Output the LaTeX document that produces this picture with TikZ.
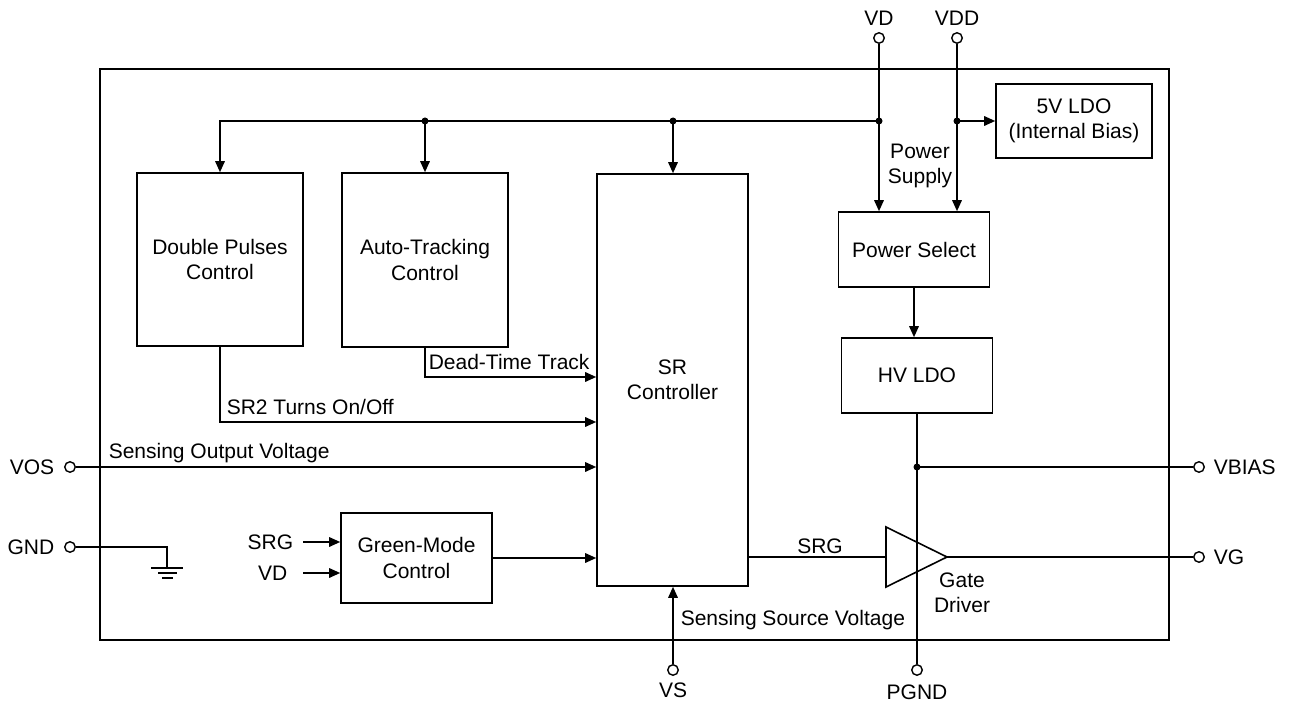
\documentclass[tikz,border=0pt]{standalone}
\usepackage{fontspec}
\setmainfont{Liberation Sans}
\usetikzlibrary{arrows.meta}
\newcommand{\dfont}{\fontsize{21}{25.5}\selectfont}
\begin{document}
\begin{tikzpicture}[x=1pt,y=-1pt, line width=1.6pt, line join=miter,
  blk/.style={draw, inner sep=0pt, align=center, font=\dfont},
  pin/.style={draw, circle, fill=white, minimum size=10.5pt, inner sep=0pt, line width=1.4pt},
  lbl/.style={inner sep=0pt, font=\dfont, align=center},
  arr/.style={-{Triangle[length=11pt,width=9.5pt]}},
  jdot/.style={fill=black}]
\useasboundingbox (0,0) rectangle (1290,703);
% chip outline
\node[draw, inner sep=0pt, minimum width=1069pt, minimum height=571pt] (chip) at (634.5,354.5) {};
% blocks
\node[blk, minimum width=166pt, minimum height=173pt] (dp) at (220,259.5) {Double Pulses\\Control};
\node[blk, minimum width=166pt, minimum height=174pt] (at) at (425,260) {Auto-Tracking\\Control};
\node[blk, minimum width=151pt, minimum height=412pt] (sr) at (672.5,380) {SR\\Controller};
\node[blk, minimum width=151pt, minimum height=75pt] (ps) at (914,249.5) {Power Select};
\node[blk, minimum width=151pt, minimum height=75pt] (hv) at (917,375.5) {HV LDO};
\node[blk, minimum width=156pt, minimum height=74pt] (ldo) at (1074,121) {5V LDO\\(Internal Bias)};
\node[blk, minimum width=151pt, minimum height=90pt] (gm) at (416.5,558) {Green-Mode\\Control};
% coordinates
\coordinate (jvd) at (879,121);
\coordinate (jvdd) at (957,121);
\coordinate (jat) at (425,121);
\coordinate (jsr) at (673,121);
\coordinate (jbias) at (917,467);
\coordinate (drvin) at (886,557);
\coordinate (drvout) at (947,557);
\coordinate (ydt) at (0,377);
\coordinate (ysr2) at (0,422);
\coordinate (srgin) at (303,542);
\coordinate (vdin) at (303,573);
\coordinate (gndc) at (167,568);
% driver triangle
\draw (886,527) -- (drvout) -- (886,587) -- cycle;
% pins
\node[pin] (pvd) at (879,38) {};
\node[pin] (pvdd) at (957,38) {};
\node[pin] (pvos) at (70,467) {};
\node[pin] (pgnd) at (70,547) {};
\node[pin] (pvs) at (673,670) {};
\node[pin] (ppgnd) at (917,670) {};
\node[pin] (pvbias) at (1199,467) {};
\node[pin] (pvg) at (1199,557) {};
% connectors
\draw[arr] (pvd) -- (pvd |- ps.north);
\draw[arr] (pvdd) -- (pvdd |- ps.north);
\draw[arr] (jvd) -| (dp.north);
\draw[arr] (jat) -- (at.north);
\draw[arr] (jsr) -- (jsr |- sr.north);
\draw[arr] (jvdd) -- (ldo.west);
\draw[arr] (ps.south) -- (ps.south |- hv.north);
\draw (hv.south) -- (ppgnd);
\draw (jbias) -- (pvbias);
\draw (drvout) -- (pvg);
\draw (sr.east |- drvin) -- (drvin);
\draw[arr] (at.south) |- (sr.west |- ydt);
\draw[arr] (dp.south) |- (sr.west |- ysr2);
\draw[arr] (pvos) -- (sr.west |- pvos);
\draw[arr] (gm.east) -- (sr.west |- gm.east);
\draw[arr] (pvs) -- (pvs |- sr.south);
\draw[arr] (srgin) -- (gm.west |- srgin);
\draw[arr] (vdin) -- (gm.west |- vdin);
\draw (pgnd) -| (gndc);
\draw (151,568) -- (183,568);
\draw (158,573) -- (177,573);
\draw (162,578) -- (173,578);
% junction dots
\fill[jdot] (jvd) circle (3.5);
\fill[jdot] (jvdd) circle (3.5);
\fill[jdot] (jat) circle (3.5);
\fill[jdot] (jsr) circle (3.5);
\fill[jdot] (jbias) circle (3.5);
% labels
\node[lbl] (lvd) at (879,18) {VD};
\node[lbl] (lvdd) at (957,18) {VDD};
\node[lbl] (lps) at (920,166) {Power\\Supply};
\node[lbl] (lgd) at (962,593) {Gate\\Driver};
\node[lbl, anchor=base] (lsrg) at (820,553) {SRG};
\node[lbl, anchor=base west] (lssv) at (680,625) {Sensing Source Voltage};
\node[lbl] (lvs) at (673,690) {VS};
\node[lbl] (lpgnd) at (917,692) {PGND};
\node[lbl, anchor=west] (lvbias) at (1213,467) {VBIAS};
\node[lbl, anchor=west] (lvg) at (1213,557) {VG};
\node[lbl, anchor=east] (lvos) at (55,467) {VOS};
\node[lbl, anchor=east] (lgnd) at (55,547) {GND};
\node[lbl, anchor=east] (lsrgin) at (294,542) {SRG};
\node[lbl, anchor=east] (lvdin) at (288,573) {VD};
\node[lbl, anchor=base west] (ldt) at (428,369) {Dead-Time Track};
\node[lbl, anchor=base west] (lsr2) at (226,414) {SR2 Turns On/Off};
\node[lbl, anchor=base west] (lsov) at (108,458) {Sensing Output Voltage};
\end{tikzpicture}
\end{document}
